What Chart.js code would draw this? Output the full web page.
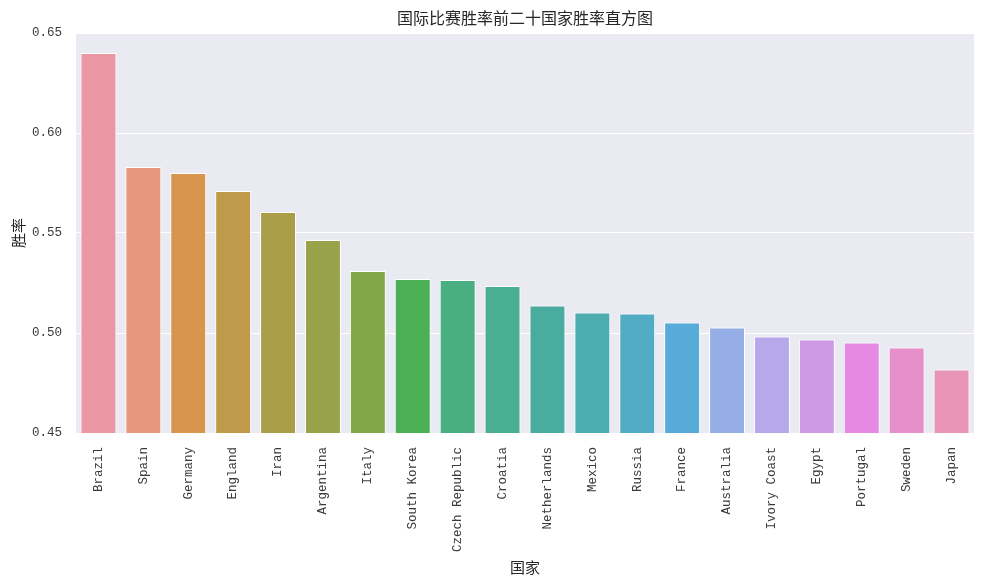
<!DOCTYPE html>
<html>
<head>
<meta charset="utf-8">
<script src="https://cdn.jsdelivr.net/npm/chart.js@4"></script>
<style>
html,body{margin:0;padding:0;background:#fff;}
#wrap{width:984px;height:584px;}
</style>
</head>
<body>
<div id="wrap"><canvas id="c" width="984" height="584"></canvas></div>
<script>
const countries = ["Brazil","Spain","Germany","England","Iran","Argentina","Italy","South Korea","Czech Republic","Croatia","Netherlands","Mexico","Russia","France","Australia","Ivory Coast","Egypt","Portugal","Sweden","Japan"];
const winRates = [0.640,0.583,0.580,0.571,0.5605,0.5465,0.531,0.527,0.5265,0.5235,0.5137,0.5102,0.5097,0.5052,0.5027,0.4982,0.4967,0.4952,0.4927,0.4817];
const barColors = ["#EA96A3","#E8977F","#D8954E","#BF9A4A","#AA9E48","#98A248","#80A848","#4AAF55","#49AE80","#4AAE95","#4AAC9F","#4EADB1","#52ADC4","#57ABD9","#95AEE6","#B6A8EB","#CE9AE6","#E589E3","#E78FCB","#E893B8"];
const yTicks = [0.45,0.50,0.55,0.60,0.65];
const titleText = "国际比赛胜率前二十国家胜率直方图";
const xLabel = "国家";
const yLabel = "胜率";

const latin = "'Liberation Mono', 'Noto Sans CJK SC', monospace";
const cjk = "'Noto Sans CJK SC', sans-serif";
const textColor = "#262626";
const tickColor = "#3a3a3a";

const bgPlugin = {
  id: 'plotBg',
  beforeDraw(chart) {
    const {ctx, chartArea: a} = chart;
    ctx.save();
    ctx.fillStyle = '#EAEAF2';
    ctx.fillRect(a.left, a.top, a.right - a.left, a.bottom - a.top);
    ctx.restore();
  }
};

new Chart(document.getElementById('c'), {
  type: 'bar',
  data: {
    labels: countries,
    datasets: [{
      data: winRates,
      backgroundColor: barColors,
      borderColor: '#ffffff',
      borderWidth: 1,
      categoryPercentage: 0.8,
      barPercentage: 1.0
    }]
  },
  options: {
    responsive: false,
    animation: false,
    layout: { padding: { left: 0, right: 10, top: 0, bottom: 0 } },
    plugins: {
      legend: { display: false },
      tooltip: { enabled: false },
      title: {
        display: true,
        text: titleText,
        fullSize: false,
        color: textColor,
        font: { family: cjk, size: 16, weight: 'normal', lineHeight: 1.2 },
        padding: { top: 8, bottom: 5.8 }
      }
    },
    scales: {
      x: {
        grid: { display: false, drawTicks: false },
        border: { display: false },
        ticks: {
          color: tickColor,
          font: { family: latin, size: 12.5 },
          minRotation: 90,
          maxRotation: 90,
          autoSkip: false,
          padding: 14
        },
        title: {
          display: true,
          text: xLabel,
          color: textColor,
          font: { family: cjk, size: 15, lineHeight: 1.2 },
          padding: { top: 4, bottom: 8 }
        },
        afterFit(scale) { scale.height = 151; }
      },
      y: {
        min: 0.45,
        max: 0.65,
        afterBuildTicks(scale) { scale.ticks = yTicks.map(v => ({ value: v })); },
        grid: { color: '#ffffff', lineWidth: 1, drawTicks: false },
        border: { display: false },
        ticks: {
          color: tickColor,
          font: { family: latin, size: 12.5 },
          padding: 14,
          callback: v => Number(v).toFixed(2)
        },
        title: {
          display: true,
          text: yLabel,
          color: textColor,
          font: { family: cjk, size: 15, lineHeight: 1.2 },
          padding: { top: 9, bottom: 4 }
        },
        afterFit(scale) { scale.width = 76; }
      }
    }
  },
  plugins: [bgPlugin]
});
</script>
</body>
</html>
